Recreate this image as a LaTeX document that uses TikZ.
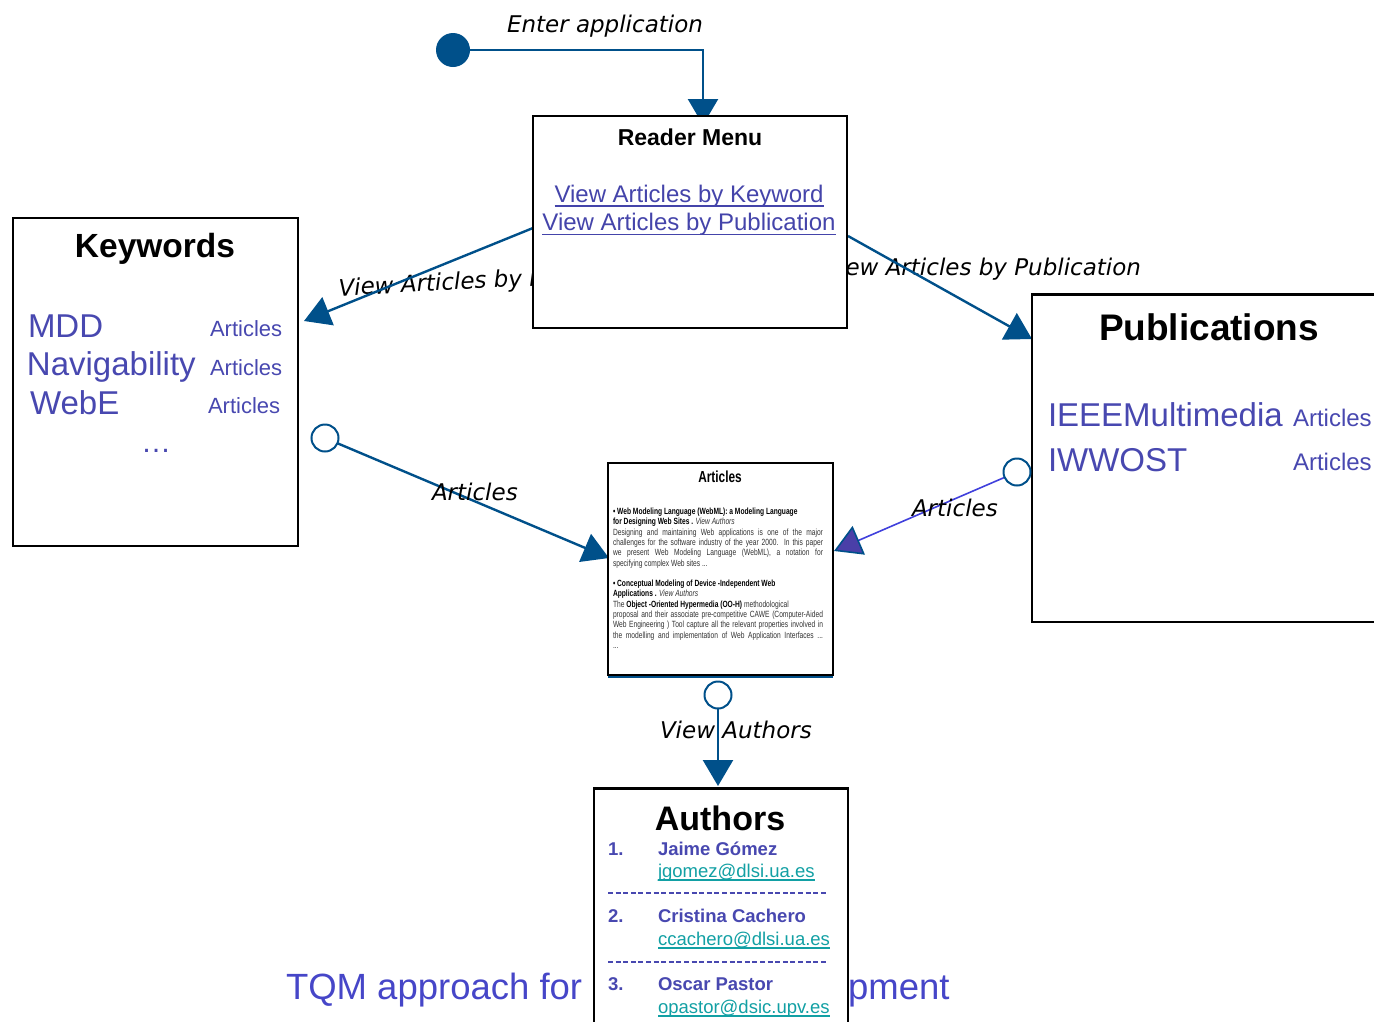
\documentclass[tikz,border=0pt]{standalone}
\usepackage{fontspec}
\setmainfont{Liberation Sans}
\newfontfamily\lblfont{DejaVu Sans}
\newfontfamily\narrowfont{Liberation Sans}[FakeStretch=0.74]
\usetikzlibrary{arrows.meta,backgrounds}

\definecolor{dblue}{HTML}{00508A}
\definecolor{linkc}{HTML}{4444AA}
\definecolor{itemc}{HTML}{4848B0}
\definecolor{titlec}{HTML}{4646C8}
\definecolor{mailc}{HTML}{12A0A4}
\definecolor{pline}{HTML}{4040DC}
\definecolor{pfill}{HTML}{4A3FA8}
\definecolor{bodyc}{HTML}{333333}

\newcommand{\fl}[1]{\makebox[\linewidth][s]{#1}}

\begin{document}
\begin{tikzpicture}[x=1pt,y=-1pt,
  every node/.style={inner sep=0pt, outer sep=0pt},
  box/.style={draw=black, line width=1.6pt, fill=white, anchor=north west},
  conn/.style={draw=dblue, line width=2.4pt, -{Triangle[length=26pt,width=30pt]}},
  pconn/.style={draw=pline, line width=1.6pt, -{Triangle[length=27pt,width=31pt,fill=pfill,color=dblue]}},
  dot/.style={circle, fill=dblue, minimum size=34pt},
  ocirc/.style={circle, draw=dblue, line width=2pt, fill=white, minimum size=27pt},
  lbl/.style={font={\lblfont\itshape\fontsize{23}{28}\selectfont}, text=black},
  boxtitle/.style={font={\bfseries\fontsize{#1}{#1}\selectfont}, text=black, anchor=base},
  item/.style={font={\fontsize{33}{38}\selectfont}, text=itemc, anchor=base west},
  small/.style={font={\fontsize{#1}{#1}\selectfont}, text=itemc, anchor=base west},
  link/.style={font={\fontsize{24}{28}\selectfont}, text=linkc, anchor=base},
  nm/.style={font={\bfseries\fontsize{18.5}{22}\selectfont}, text=itemc, anchor=base west},
  mail/.style={font={\fontsize{18.5}{22}\selectfont}, text=mailc, anchor=base west},
  uline/.style={line width=1.3pt},
  sep/.style={draw=itemc, line width=1.5pt, dash pattern=on 5pt off 2.6pt}]

\useasboundingbox (0,0) rectangle (1374,1021);

% ---------- boxes ----------
\node[box, minimum width=314pt, minimum height=212pt] (menu) at (533,116) {};
\node[boxtitle=23] (menuT) at (690,145) {Reader Menu};
\node[link] (m1) at (689,202) {View Articles by Keyword};
\node[link] (m2) at (689,230) {View Articles by Publication};
\draw[uline, linkc] ([yshift=-4pt]m1.base west) -- ([yshift=-4pt]m1.base east);
\draw[uline, linkc] ([yshift=-4.5pt]m2.base west) -- ([yshift=-4.5pt]m2.base east);

\node[box, minimum width=285pt, minimum height=328pt] (kw) at (13,218) {};
\node[boxtitle=33.5] (kwT) at (155,257) {Keywords};
\node[item] (k1) at (28,337) {MDD};
\node[small=22] (k1a) at (210,336) {Articles};
\node[item] (k2) at (27,375) {Navigability};
\node[small=22] (k2a) at (210,375) {Articles};
\node[item] (k3) at (30,414) {WebE};
\node[small=22] (k3a) at (208,413) {Articles};
\node[item, anchor=base, font={\fontsize{30}{34}\selectfont}] (k4) at (156,452) {…};

\node[box, minimum width=360pt, minimum height=328pt] (pub) at (1032,294) {};
\draw[line width=3pt] (pub.north west) -- (pub.north east);
\node[boxtitle=37] (pubT) at (1209,340) {Publications};
\node[item] (p1) at (1048,426) {IEEEMultimedia};
\node[small=24] (p1a) at (1293,426) {Articles};
\node[item] (p2) at (1048,471) {IWWOST};
\node[small=24] (p2a) at (1293,470) {Articles};

\node[box, line width=1.4pt, minimum width=225pt, minimum height=212pt] (art) at (608,463) {};
\draw[dblue, line width=2pt] ([yshift=-1.5pt]art.south west) -- ([yshift=-1.5pt]art.south east);
\node[anchor=base, font={\narrowfont\bfseries\fontsize{16}{18}\selectfont}] (artT) at (720,482) {Articles};
\node[anchor=base west, text=bodyc] (artB) at (613,508) {\parbox[t]{210pt}{\narrowfont\fontsize{9}{10.3}\selectfont
{\color{black}\bfseries • Web Modeling Language (WebML): a Modeling Language}\\
{\color{black}\bfseries for Designing Web Sites .} \textit{View Authors}\\
\fl{Designing and maintaining Web applications is one of the major}\\
\fl{challenges for the software industry of the year 2000. In this paper}\\
\fl{we present Web Modeling Language (WebML), a notation for}\\
specifying complex Web sites ...\\[10.3pt]
{\color{black}\bfseries • Conceptual Modeling of Device -Independent Web}\\
{\color{black}\bfseries Applications .} \textit{View Authors}\\
The {\color{black}\bfseries Object -Oriented Hypermedia (OO-H)} methodological\\
\fl{proposal and their associate pre-competitive CAWE (Computer-Aided}\\
\fl{Web Engineering ) Tool capture all the relevant properties involved in}\\
\fl{the modelling and implementation of Web Application Interfaces ...}\\
...}};

\node[box, line width=2pt, minimum width=254pt, minimum height=260pt] (auth) at (594,788) {};
\draw[line width=3pt] (auth.north west) -- (auth.north east);
\node[boxtitle=34] (authT) at (720,830) {Authors};
\node[nm] (a1n) at (608,855) {1.};
\node[nm] (a1) at (658,855) {Jaime Gómez};
\node[mail] (a1m) at (658,877) {jgomez@dlsi.ua.es};
\draw[uline, mailc] ([yshift=-3pt]a1m.base west) -- ([yshift=-3pt]a1m.base east);
\draw[sep] (608,893) -- (828,893);
\node[nm] (a2n) at (608,922) {2.};
\node[nm] (a2) at (658,922) {Cristina Cachero};
\node[mail] (a2m) at (658,945) {ccachero@dlsi.ua.es};
\draw[uline, mailc] ([yshift=-3pt]a2m.base west) -- ([yshift=-3pt]a2m.base east);
\draw[sep] (608,962) -- (828,962);
\node[nm] (a3n) at (608,990) {3.};
\node[nm] (a3) at (658,990) {Oscar Pastor};
\node[mail] (a3m) at (658,1013) {opastor@dsic.upv.es};
\draw[uline, mailc] ([yshift=-3pt]a3m.base west) -- ([yshift=-3pt]a3m.base east);

% ---------- connector ends ----------
\node[dot] (start) at (453,50) {};
\node[ocirc] (c1) at (325,438) {};
\node[ocirc] (c2) at (1017,472) {};
\node[ocirc] (c3) at (718,695) {};
\coordinate (menuIn) at (703,125);
\coordinate (menuL) at (533,228);
\coordinate (menuR) at (848,236);
\coordinate (kwIn) at (304,321);
\coordinate (pubIn) at (1032,339);
\coordinate (artL) at (609,558);
\coordinate (artR) at (834,551);
\coordinate (authIn) at (718,786);

% ---------- layer below the boxes ----------
\begin{pgfonlayer}{background}
\node[lbl, anchor=base west, rotate=3] (lk) at (339,296) {View Articles by Keyword};
\node[lbl, anchor=base east] (lp) at (1141,275) {View Articles by Publication};
% the middle of the title lies behind the Authors box
\node[anchor=base west, font={\fontsize{36.5}{42}\selectfont}, text=titlec] (tqm) at (286,999)
  {TQM approach for\hspace{266pt}pment};
\draw[conn] (start) -| (menuIn);
\draw[conn] (menuL) -- (kwIn);
\draw[conn] (menuR) -- (pubIn);
\draw[conn] (c1) -- (artL);
\draw[pconn] (c2) -- (artR);
\draw[conn] (c3) -- (authIn);
\end{pgfonlayer}

% ---------- connector labels ----------
\node[lbl, anchor=base west] (le) at (507,32) {Enter application};
\node[lbl, anchor=base west] (la1) at (432,500) {Articles};
\node[lbl, anchor=base west] (la2) at (912,516) {Articles};
\node[lbl, anchor=base west] (lv) at (660,738) {View Authors};
\end{tikzpicture}
\end{document}
